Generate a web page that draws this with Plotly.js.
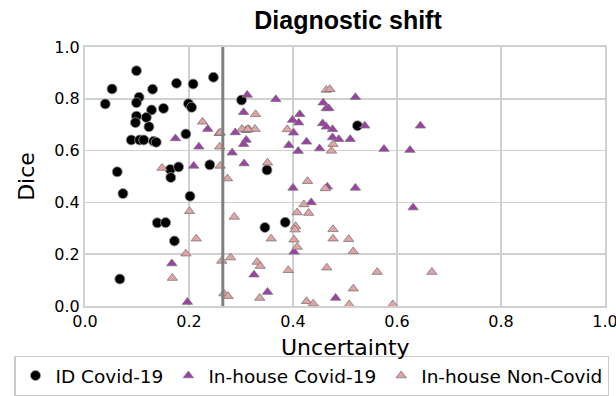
<!DOCTYPE html>
<html>
<head>
<meta charset="utf-8">
<script src="https://cdn.plot.ly/plotly-3.0.1.min.js"></script>
<style>html,body{margin:0;padding:0;background:#fff;}#chart{width:616px;height:396px;}</style>
</head>
<body>
<div id="chart"></div>
<script>
// ID Covid-19
const idX = [0.099,0.052,0.130,0.176,0.208,0.247,0.039,0.104,0.099,0.199,0.205,0.128,0.151,0.099,0.118,0.097,0.123,0.194,0.089,0.105,0.113,0.132,0.137,0.301,0.240,0.350,0.164,0.180,0.062,0.165,0.073,0.202,0.139,0.155,0.172,0.067,0.346,0.385,0.524];
const idY = [0.908,0.838,0.837,0.860,0.857,0.883,0.780,0.806,0.785,0.781,0.767,0.757,0.763,0.733,0.728,0.708,0.692,0.664,0.641,0.641,0.641,0.636,0.632,0.795,0.545,0.525,0.527,0.537,0.518,0.496,0.434,0.424,0.321,0.322,0.251,0.104,0.303,0.323,0.696];
// In-house Covid-19
const covX = [0.312,0.367,0.305,0.236,0.289,0.310,0.315,0.310,0.305,0.219,0.258,0.283,0.306,0.209,0.399,0.413,0.411,0.401,0.426,0.392,0.410,0.451,0.458,0.464,0.457,0.464,0.520,0.469,0.476,0.538,0.645,0.488,0.510,0.476,0.575,0.625,0.174,0.167,0.197,0.325,0.400,0.466,0.520,0.435,0.631,0.402,0.351,0.482];
const covY = [0.815,0.798,0.748,0.683,0.670,0.679,0.682,0.641,0.625,0.615,0.667,0.592,0.550,0.541,0.718,0.740,0.708,0.669,0.634,0.621,0.598,0.608,0.785,0.763,0.705,0.692,0.806,0.763,0.682,0.696,0.696,0.644,0.644,0.651,0.606,0.602,0.647,0.164,0.015,0.121,0.456,0.460,0.456,0.400,0.380,0.209,0.054,0.031];
// In-house Non-Covid
const nonX = [0.328,0.226,0.302,0.327,0.260,0.259,0.351,0.260,0.389,0.274,0.464,0.471,0.313,0.477,0.474,0.148,0.428,0.462,0.201,0.287,0.421,0.408,0.430,0.214,0.194,0.358,0.405,0.404,0.402,0.408,0.477,0.477,0.507,0.516,0.263,0.280,0.331,0.337,0.391,0.465,0.562,0.516,0.267,0.275,0.336,0.426,0.439,0.508,0.168,0.592,0.667];
const nonY = [0.740,0.711,0.683,0.683,0.669,0.615,0.553,0.541,0.682,0.492,0.834,0.837,0.682,0.625,0.599,0.533,0.482,0.454,0.366,0.344,0.392,0.361,0.359,0.260,0.202,0.260,0.308,0.295,0.256,0.228,0.296,0.260,0.258,0.211,0.174,0.187,0.170,0.154,0.138,0.148,0.131,0.067,0.048,0.038,0.031,0.018,0.009,0.006,0.108,0.006,0.131];
const threshold = 0.265;
const xTicks = [0, 0.2, 0.4, 0.6, 0.8, 1.0];
const yTicks = [0, 0.2, 0.4, 0.6, 0.8, 1.0];

const traces = [
  {x: idX, y: idY, type: 'scatter', mode: 'markers', name: 'ID Covid-19',
   marker: {symbol: 'circle', size: 10, color: '#000000', line: {color: '#999999', width: 0.8}}},
  {x: covX, y: covY, type: 'scatter', mode: 'markers', name: 'In-house Covid-19',
   marker: {symbol: 'triangle-up', size: 9, color: '#9e3fa8', line: {color: '#777777', width: 0.8}}},
  {x: nonX, y: nonY, type: 'scatter', mode: 'markers', name: 'In-house Non-Covid',
   marker: {symbol: 'triangle-up', size: 9, color: '#e3a3a3', line: {color: '#777777', width: 0.8}}}
];

const axisCommon = {
  range: [0, 1], showgrid: true, gridcolor: '#d0d0d0', gridwidth: 1.5,
  showline: true, mirror: true, linecolor: '#d0d0d0', linewidth: 2,
  zeroline: false, ticks: '', tickformat: '.1f', ticklabeloverflow: 'allow',
  automargin: false,
  tickfont: {family: 'DejaVu Sans', size: 16, color: '#000'}
};

const layout = {
  width: 616, height: 396,
  margin: {l: 85, r: 11, t: 47, b: 90, autoexpand: false},
  paper_bgcolor: '#fff', plot_bgcolor: '#fff',
  title: {text: 'Diagnostic shift', font: {family: 'Liberation Sans', size: 25, color: '#000', weight: 'bold'},
          xref: 'container', yref: 'container', x: 348/616, xanchor: 'center', y: 1 - 20/396, yanchor: 'middle'},
  xaxis: Object.assign({}, axisCommon, {tickvals: xTicks}),
  yaxis: Object.assign({}, axisCommon, {tickvals: yTicks,
    title: {text: 'Dice', font: {family: 'DejaVu Sans', size: 22, color: '#000'}, standoff: 14}}),
  annotations: [{text: 'Uncertainty', xref: 'paper', yref: 'paper', x: 0.5, y: -41/259, xanchor: 'center', yanchor: 'middle',
                 showarrow: false, font: {family: 'DejaVu Sans', size: 22, color: '#000'}}],
  showlegend: true,
  legend: {orientation: 'h', xref: 'paper', yref: 'paper', x: (14 - 85)/520, xanchor: 'left', y: (306 - 396.5)/259, yanchor: 'bottom',
           font: {family: 'DejaVu Sans', size: 18.5, color: '#000'}, bordercolor: '#cccccc', borderwidth: 1.5,
           bgcolor: '#fff'},
  shapes: [{type: 'line', xref: 'x', yref: 'paper', x0: threshold, x1: threshold, y0: 0, y1: 1,
            line: {color: '#808080', width: 3}, layer: 'above'}]
};

Plotly.newPlot('chart', traces, layout, {displayModeBar: false, staticPlot: true});
</script>
</body>
</html>
